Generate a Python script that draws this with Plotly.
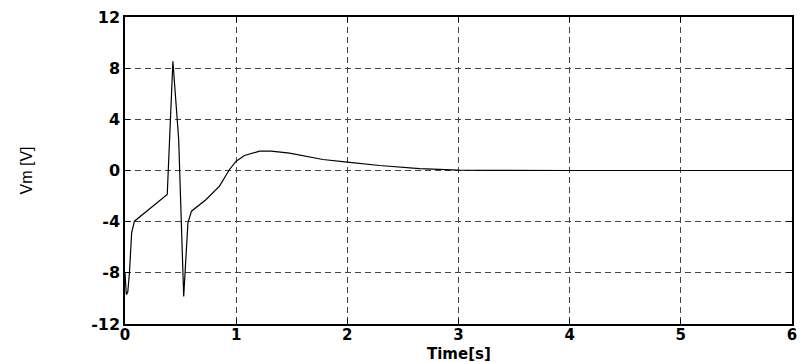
import plotly.graph_objects as go

# Data (time in s, Vm in V)
time_s = [0.0, 0.012, 0.025, 0.04, 0.06, 0.085, 0.2, 0.3, 0.38, 0.431, 0.467, 0.483,
          0.528, 0.566, 0.598, 0.73, 0.85, 0.895, 0.94, 1.0, 1.075, 1.21, 1.315, 1.48,
          1.78, 2.0, 2.29, 2.65, 3.0, 3.3, 3.66, 4.0, 6.0]
vm_v = [-8.0, -9.7, -9.5, -8.0, -4.85, -3.96, -3.15, -2.45, -1.88, 8.54, 4.0, 2.4,
        -9.85, -4.09, -3.18, -2.27, -1.22, -0.57, 0.08, 0.73, 1.17, 1.51, 1.51, 1.36,
        0.86, 0.65, 0.39, 0.14, 0.03, 0.01, 0.0, 0.0, 0.0]

x_ticks = [0, 1, 2, 3, 4, 5, 6]
y_ticks = [-12, -8, -4, 0, 4, 8, 12]

FONT = "Liberation Sans, Arial, sans-serif"
BOLD_FONT = "DejaVu Sans, Verdana, sans-serif"

fig = go.Figure()
fig.add_trace(go.Scatter(x=time_s, y=vm_v, mode="lines",
                         line=dict(color="black", width=1.2), showlegend=False))

axis_common = dict(
    showline=True, linecolor="black", linewidth=1.5, mirror="ticks",
    ticks="inside", ticklen=5, tickcolor="black", tickwidth=1,
    showgrid=True, gridcolor="#444444", gridwidth=1, griddash="6px,4px",
    zeroline=False, automargin=False, ticklabeloverflow="allow",
)

fig.update_xaxes(range=[0, 6], tickvals=x_ticks, ticktext=[str(v) for v in x_ticks],
                 tickfont=dict(family=BOLD_FONT, size=15, color="black", weight="bold"),
                 ticklabelstandoff=-4, **axis_common)
fig.update_yaxes(range=[-12, 12], tickvals=y_ticks, ticktext=[str(v) for v in y_ticks],
                 tickfont=dict(family=BOLD_FONT, size=16, color="black", weight="bold"),
                 **axis_common)

fig.add_annotation(text="Vm [V]", xref="paper", yref="paper", x=-0.147, y=0.5,
                   textangle=-90, showarrow=False, xanchor="center", yanchor="middle",
                   font=dict(family=FONT, size=16, color="black"))
fig.add_annotation(text="Time[s]", xref="paper", yref="paper", x=0.5, y=-0.097,
                   showarrow=False, xanchor="center", yanchor="middle",
                   font=dict(family=BOLD_FONT, size=15, color="black", weight="bold"))

fig.update_layout(width=800, height=362,
                  margin=dict(l=125, r=8, t=17, b=38),
                  plot_bgcolor="white", paper_bgcolor="white")

# remove the default 8px page margin so the figure fills the window exactly
fig.write_html("out.html", config={"displayModeBar": False},
               post_script="document.body.style.margin='0';document.body.style.overflow='hidden';")
